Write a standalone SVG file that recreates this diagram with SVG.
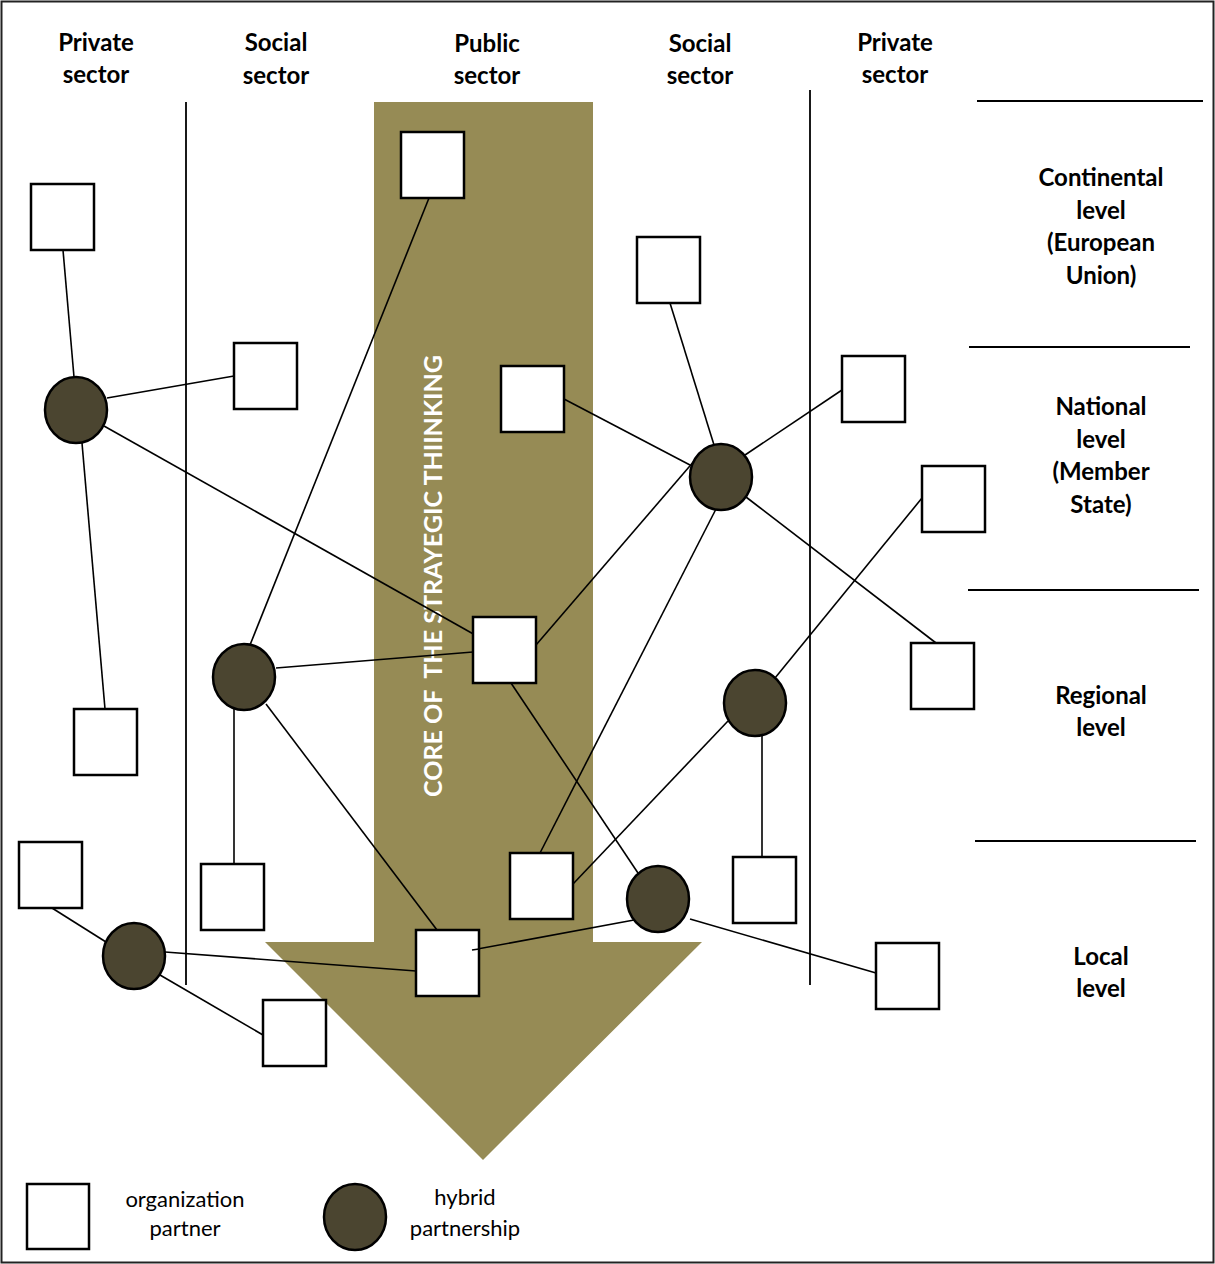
<svg xmlns="http://www.w3.org/2000/svg" width="1215" height="1264" viewBox="0 0 1215 1264">
<style>
.sq{fill:#fff;stroke:#000;stroke-width:2.5}
.hb{fill:#4b4530;stroke:#000;stroke-width:2.5}
.ln{stroke:#000;stroke-width:1.6;fill:none}
.div{stroke:#000;stroke-width:1.8;fill:none}
.hd{font-family:Lato,"Liberation Sans",sans-serif;font-weight:bold;font-size:24px;text-anchor:middle;fill:#000}
.lg{font-family:Lato,"Liberation Sans",sans-serif;font-size:22px;text-anchor:middle;fill:#000}
.core{font-family:Lato,"Liberation Sans",sans-serif;font-weight:bold;font-size:25px;text-anchor:middle;fill:#fff}
</style>
<rect x="0" y="0" width="1215" height="1264" fill="#fff"/>
<rect x="1.5" y="1.5" width="1212" height="1261" fill="none" stroke="#222" stroke-width="2"/>
<g id="arrow">
<polygon points="374,102 593,102 593,942 702,942 483,1160 265,942 374,942" fill="#968b55"/>
<text class="core" xml:space="preserve" transform="translate(442,576) rotate(-90)" textLength="442" lengthAdjust="spacingAndGlyphs">CORE OF  THE STRAYEGIC THIINKING</text>
</g>
<g id="dividers">
<line class="div" x1="186" y1="102" x2="186" y2="985"/>
<line class="div" x1="810" y1="90" x2="810" y2="985"/>
<line class="div" x1="977" y1="101" x2="1203" y2="101"/>
<line class="div" x1="969" y1="347" x2="1190" y2="347"/>
<line class="div" x1="968" y1="590" x2="1199" y2="590"/>
<line class="div" x1="975" y1="841" x2="1196" y2="841"/>
</g>
<g id="headers">
<text class="hd" x="96" y="51">Private</text><text class="hd" x="96" y="83">sector</text>
<text class="hd" x="276" y="51">Social</text><text class="hd" x="276" y="84">sector</text>
<text class="hd" x="487" y="52">Public</text><text class="hd" x="487" y="84">sector</text>
<text class="hd" x="700" y="52">Social</text><text class="hd" x="700" y="84">sector</text>
<text class="hd" x="895" y="51">Private</text><text class="hd" x="895" y="83">sector</text>
</g>
<g id="levels">
<text class="hd" x="1101" y="186">Continental</text>
<text class="hd" x="1101" y="219">level</text>
<text class="hd" x="1101" y="251">(European</text>
<text class="hd" x="1101" y="284">Union)</text>
<text class="hd" x="1101" y="415">National</text>
<text class="hd" x="1101" y="448">level</text>
<text class="hd" x="1101" y="480">(Member</text>
<text class="hd" x="1101" y="513">State)</text>
<text class="hd" x="1101" y="704">Regional</text>
<text class="hd" x="1101" y="736">level</text>
<text class="hd" x="1101" y="965">Local</text>
<text class="hd" x="1101" y="997">level</text>
</g>
<g id="connectors">
<line class="ln" x1="63" y1="250" x2="74" y2="377"/>
<line class="ln" x1="107" y1="398" x2="234" y2="376"/>
<line class="ln" x1="104" y1="426" x2="484" y2="640"/>
<line class="ln" x1="82" y1="443" x2="105" y2="709"/>
<line class="ln" x1="429" y1="198" x2="250" y2="645"/>
<line class="ln" x1="276" y1="668" x2="473" y2="652"/>
<line class="ln" x1="234" y1="709" x2="234" y2="864"/>
<line class="ln" x1="266" y1="704" x2="437" y2="930"/>
<line class="ln" x1="536" y1="645" x2="695" y2="460"/>
<line class="ln" x1="511" y1="683" x2="640" y2="876"/>
<line class="ln" x1="564" y1="399" x2="690" y2="465"/>
<line class="ln" x1="670" y1="303" x2="714" y2="445"/>
<line class="ln" x1="745" y1="455" x2="842" y2="390"/>
<line class="ln" x1="746" y1="497" x2="936" y2="643"/>
<line class="ln" x1="716" y1="509" x2="540" y2="853"/>
<line class="ln" x1="922" y1="498" x2="775" y2="678"/>
<line class="ln" x1="728" y1="721" x2="573" y2="884"/>
<line class="ln" x1="762" y1="736" x2="762" y2="857"/>
<line class="ln" x1="690" y1="919" x2="876" y2="973"/>
<line class="ln" x1="634" y1="920" x2="472" y2="950"/>
<line class="ln" x1="52" y1="908" x2="106" y2="942"/>
<line class="ln" x1="165" y1="952" x2="416" y2="971"/>
<line class="ln" x1="160" y1="975" x2="263" y2="1035"/>
</g>
<g id="sq1"><rect class="sq" x="31" y="184" width="63" height="66"/></g>
<g id="sq2"><rect class="sq" x="401" y="132" width="63" height="66"/></g>
<g id="sq3"><rect class="sq" x="234" y="343" width="63" height="66"/></g>
<g id="sq4"><rect class="sq" x="637" y="237" width="63" height="66"/></g>
<g id="sq5"><rect class="sq" x="501" y="366" width="63" height="66"/></g>
<g id="sq6"><rect class="sq" x="842" y="356" width="63" height="66"/></g>
<g id="sq7"><rect class="sq" x="922" y="466" width="63" height="66"/></g>
<g id="sq8"><rect class="sq" x="473" y="617" width="63" height="66"/></g>
<g id="sq9"><rect class="sq" x="911" y="643" width="63" height="66"/></g>
<g id="sq10"><rect class="sq" x="74" y="709" width="63" height="66"/></g>
<g id="sq11"><rect class="sq" x="19" y="842" width="63" height="66"/></g>
<g id="sq12"><rect class="sq" x="201" y="864" width="63" height="66"/></g>
<g id="sq13"><rect class="sq" x="510" y="853" width="63" height="66"/></g>
<g id="sq14"><rect class="sq" x="733" y="857" width="63" height="66"/></g>
<g id="sq15"><rect class="sq" x="416" y="930" width="63" height="66"/><line class="ln" x1="472" y1="950" x2="479" y2="949"/></g>
<g id="sq16"><rect class="sq" x="263" y="1000" width="63" height="66"/></g>
<g id="sq17"><rect class="sq" x="876" y="943" width="63" height="66"/></g>
<g id="hb1"><ellipse class="hb" cx="76" cy="410" rx="31" ry="33"/></g>
<g id="hb2"><ellipse class="hb" cx="244" cy="677" rx="31" ry="33"/></g>
<g id="hb3"><ellipse class="hb" cx="721" cy="477" rx="31" ry="33"/></g>
<g id="hb4"><ellipse class="hb" cx="755" cy="703" rx="31" ry="33"/></g>
<g id="hb5"><ellipse class="hb" cx="658" cy="899" rx="31" ry="33"/></g>
<g id="hb6"><ellipse class="hb" cx="134" cy="956" rx="31" ry="33"/></g>
<g id="legend">
<rect class="sq" x="27" y="1184" width="62" height="65"/>
<text class="lg" x="185" y="1207">organization</text>
<text class="lg" x="185" y="1236">partner</text>
<ellipse class="hb" cx="355" cy="1217" rx="31" ry="33"/>
<text class="lg" x="465" y="1205">hybrid</text>
<text class="lg" x="465" y="1236">partnership</text>
</g>
</svg>
